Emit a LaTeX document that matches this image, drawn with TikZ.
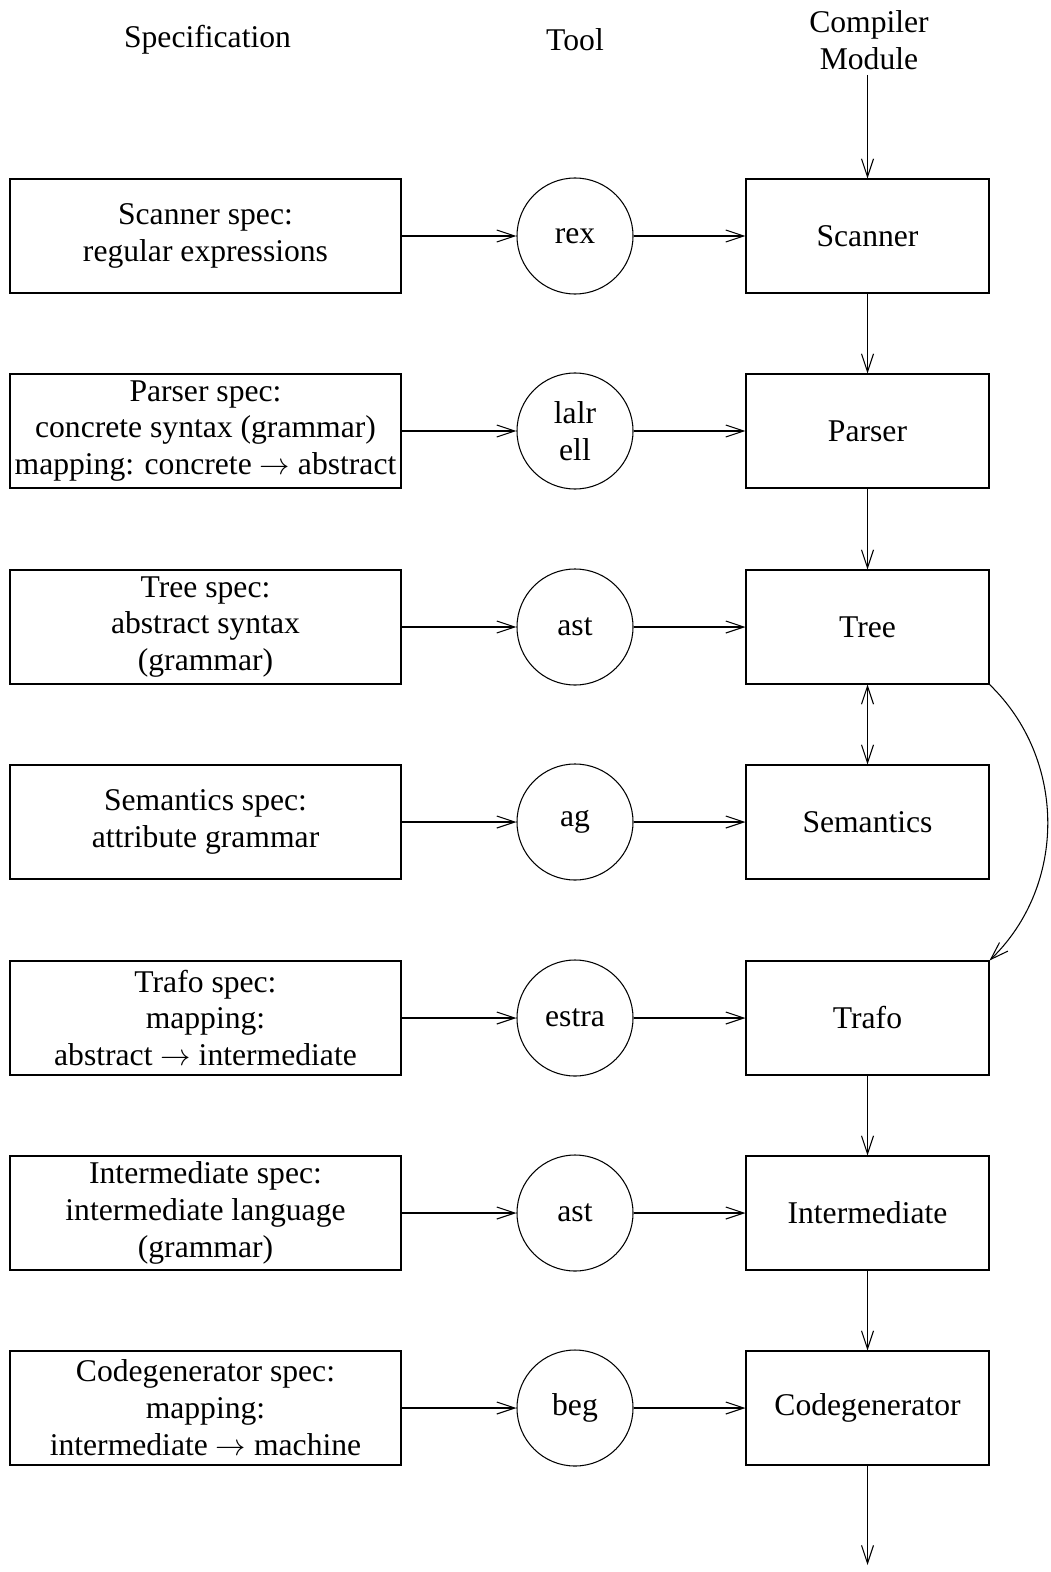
\documentclass[tikz,border=0pt]{standalone}
\usepackage{fontspec}
\setmainfont{Liberation Serif}
\usetikzlibrary{arrows.meta, positioning}

\begin{document}
\begin{tikzpicture}[
  every node/.style={font=\fontsize{18}{21}\selectfont},
  line width=0.6pt,
  specbox/.style={rectangle, draw, minimum width=7.82cm, minimum height=2.28cm, align=center, inner sep=1pt},
  toolcirc/.style={circle, draw, minimum size=2.32cm, align=center, inner sep=1pt},
  modbox/.style={rectangle, draw, minimum width=4.86cm, minimum height=2.28cm, align=center},
  flow/.style={-{Straight Barb[length=0.36cm, width=0.24cm]}},
  twoway/.style={{Straight Barb[length=0.36cm, width=0.24cm]}-{Straight Barb[length=0.36cm, width=0.24cm]}},
]
\useasboundingbox (0,0) rectangle (21.02,-31.44);

% Column headers
\node (h_spec) at (4.15, -0.8) {Specification};
\node (h_tool) at (11.5, -0.8) {Tool};
\node[align=center] (h_mod) at (17.38, -0.8) {Compiler\\Module};
\coordinate (mod_in) at (17.35, -1.5);
\coordinate (mod_out) at (17.35, -31.3);

% Specifications
\node[specbox] (spec_scan) at (4.11, -4.72) {Scanner spec:\\regular expressions};
\node[specbox] (spec_parse) at (4.11, -8.62) {Parser spec:\\concrete syntax (grammar)\\mapping: concrete $\rightarrow$ abstract};
\node[specbox] (spec_tree) at (4.11, -12.54) {Tree spec:\\abstract syntax\\(grammar)};
\node[specbox] (spec_sem) at (4.11, -16.44) {Semantics spec:\\attribute grammar};
\node[specbox] (spec_trafo) at (4.11, -20.36) {Trafo spec:\\mapping:\\abstract $\rightarrow$ intermediate};
\node[specbox] (spec_inter) at (4.11, -24.26) {Intermediate spec:\\intermediate language\\(grammar)};
\node[specbox] (spec_cg) at (4.11, -28.16) {Codegenerator spec:\\mapping:\\intermediate $\rightarrow$ machine};

% Tools
\node[toolcirc] (tool_rex) at (11.5, -4.72) {rex};
\node[toolcirc] (tool_lalr) at (11.5, -8.62) {lalr\\ell};
\node[toolcirc] (tool_ast) at (11.5, -12.54) {ast};
\node[toolcirc] (tool_ag) at (11.5, -16.44) {ag};
\node[toolcirc] (tool_estra) at (11.5, -20.36) {estra};
\node[toolcirc] (tool_ast2) at (11.5, -24.26) {ast};
\node[toolcirc] (tool_beg) at (11.5, -28.16) {beg};

% Compiler modules
\node[modbox] (mod_scan) at (17.35, -4.72) {Scanner};
\node[modbox] (mod_parse) at (17.35, -8.62) {Parser};
\node[modbox] (mod_tree) at (17.35, -12.54) {Tree};
\node[modbox] (mod_sem) at (17.35, -16.44) {Semantics};
\node[modbox] (mod_trafo) at (17.35, -20.36) {Trafo};
\node[modbox] (mod_inter) at (17.35, -24.26) {Intermediate};
\node[modbox] (mod_cg) at (17.35, -28.16) {Codegenerator};

% spec -> tool -> module
\draw[flow] (spec_scan) -- (tool_rex);
\draw[flow] (tool_rex) -- (mod_scan);
\draw[flow] (spec_parse) -- (tool_lalr);
\draw[flow] (tool_lalr) -- (mod_parse);
\draw[flow] (spec_tree) -- (tool_ast);
\draw[flow] (tool_ast) -- (mod_tree);
\draw[flow] (spec_sem) -- (tool_ag);
\draw[flow] (tool_ag) -- (mod_sem);
\draw[flow] (spec_trafo) -- (tool_estra);
\draw[flow] (tool_estra) -- (mod_trafo);
\draw[flow] (spec_inter) -- (tool_ast2);
\draw[flow] (tool_ast2) -- (mod_inter);
\draw[flow] (spec_cg) -- (tool_beg);
\draw[flow] (tool_beg) -- (mod_cg);

% module chain
\draw[flow] (mod_in) -- (mod_scan);
\draw[flow] (mod_scan) -- (mod_parse);
\draw[flow] (mod_parse) -- (mod_tree);
\draw[twoway] (mod_tree) -- (mod_sem);
\draw[flow] (mod_tree.south east) to[bend left=46] (mod_trafo.north east);
\draw[flow] (mod_trafo) -- (mod_inter);
\draw[flow] (mod_inter) -- (mod_cg);
\draw[flow] (mod_cg) -- (mod_out);

\end{tikzpicture}
\end{document}
